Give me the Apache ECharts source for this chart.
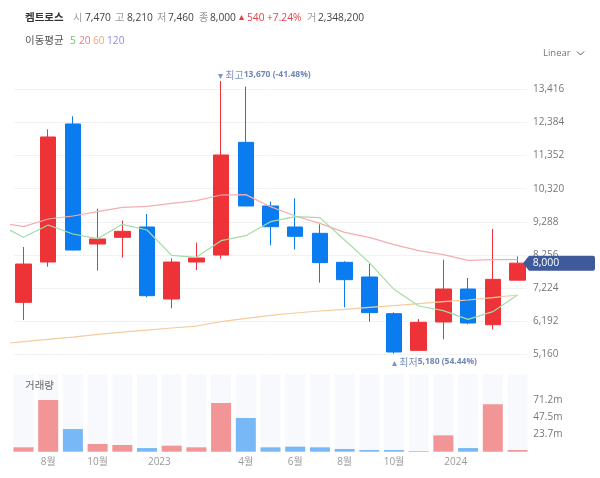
<!DOCTYPE html>
<html>
<head>
<meta charset="utf-8">
<title>켐트로스</title>
<script src="https://cdn.jsdelivr.net/npm/echarts@6/dist/echarts.min.js"></script>
<style>
  html, body { margin: 0; padding: 0; background: #fff; }
  #chart { width: 600px; height: 478px; }
</style>
</head>
<body>
<div id="chart"></div>
<script>
// 캔들 (월봉) - index 0 ~ 20
const opens = [6779, 8035, 12334, 8596, 8804, 9126, 6883, 8035, 8253, 11763, 9780, 9126, 8929, 8026, 7569, 6427, 5284, 6167, 7195, 6084, 7470];
const closes = [7973, 11929, 8409, 8752, 8991, 6987, 8035, 8160, 11368, 9780, 9136, 8835, 8015, 7486, 6458, 5233, 6157, 7195, 6136, 7496, 8000];
const lows = [6229, 7890, 8400, 7765, 8170, 6935, 6592, 7786, 8139, 9780, 8555, 8430, 7392, 6624, 6177, 5180, 5264, 5627, 6094, 5939, 7460];
const highs = [8503, 12168, 12573, 9697, 9323, 9531, 8150, 8638, 13670, 13497, 9915, 10019, 9209, 8057, 7984, 6468, 6260, 8109, 7537, 9064, 8210];

// 거래량 (단위: m)
const volumes = [6.0, 71.2, 31.2, 10.6, 9.2, 5.0, 8.3, 6.0, 67.0, 46.4, 6.0, 6.9, 6.0, 3.7, 2.3, 2.3, 0.9, 22.5, 5.0, 65.2, 2.3];

// 이동평균 - 첫 값은 차트 왼쪽 밖의 이전 봉 (index -1)
const ma5 = [9209, 8804, 9188, 8907, 8762, 9209, 9032, 8243, 8181, 8700, 8856, 9292, 9448, 9417, 8721, 8015, 7185, 6665, 6520, 6250, 6489, 7008];
const ma20 = [9271, 9136, 9375, 9468, 9603, 9738, 9769, 9863, 9946, 10122, 10133, 9759, 9468, 9240, 8960, 8804, 8576, 8389, 8264, 8088, 8109, 8109];
const ma60 = [5480, 5554, 5626, 5699, 5782, 5855, 5917, 5980, 6042, 6177, 6281, 6374, 6447, 6510, 6561, 6624, 6676, 6738, 6800, 6852, 6925, 7008];

// 축 라벨
const xLabelPositions = [1, 3, 5.5, 9, 11, 13, 15, 17.5];
const xLabels = ['8월', '10월', '2023', '4월', '6월', '8월', '10월', '2024'];
const volumeTicks = [23.7, 47.5, 71.2];

const RED = '#ee3338';
const BLUE = '#0a7cf0';
const NAVY = '#3f5a9a';
const FONT = '"Open Sans", "Noto Sans CJK KR", sans-serif';
const KR_FONT = '"Noto Sans CJK KR", sans-serif';

const candleData = opens.map((o, i) => [i, o, closes[i], lows[i], highs[i]]);
const volumeData = volumes.map((v, i) => ({
  value: [i, v],
  itemStyle: { color: closes[i] >= opens[i] ? '#f29597' : '#79b8f7' }
}));

function maLine(name, values, color) {
  return {
    name: name,
    type: 'line',
    xAxisIndex: 0,
    yAxisIndex: 0,
    data: values.map((v, i) => [i - 1, v]),
    symbol: 'none',
    silent: true,
    z: 5,
    lineStyle: { color: color, width: 1.2 }
  };
}

// 상단 텍스트 한 조각
function text(x, y, str, color, size, weight) {
  return {
    type: 'text',
    x: x,
    y: y,
    z: 100,
    silent: true,
    style: {
      text: str,
      fill: color,
      font: (weight || 'normal') + ' ' + (size || 10.2) + 'px ' + FONT,
      textVerticalAlign: 'middle'
    }
  };
}

// 최고/최저 표시용 라벨
function extremeLabel(xValue, yValue, offset, content) {
  return {
    coord: [xValue, yValue],
    symbol: 'circle',
    symbolSize: 1,
    itemStyle: { color: 'transparent' },
    label: {
      show: true,
      position: 'inside',
      align: 'left',
      verticalAlign: 'middle',
      offset: offset,
      formatter: content,
      rich: {
        a: { color: '#7f93bf', fontSize: 10, fontFamily: KR_FONT },
        b: { color: '#6f86b8', fontSize: 8.5, fontWeight: 'bold', fontFamily: FONT }
      }
    }
  };
}

const chart = echarts.init(document.getElementById('chart'));

chart.setOption({
  animation: false,
  backgroundColor: '#fff',
  grid: [
    // 0: 캔들, 1: 가격 눈금과 격자선, 2: 거래량
    { left: 11.15, width: 518.7, top: 76.9, height: 285.8 },
    { left: 14, width: 513, top: 89.3, height: 265 },
    { left: 11.15, width: 518.7, top: 374.3, height: 77.4 }
  ],
  xAxis: [
    { type: 'value', gridIndex: 0, min: -0.5, max: 20.5, show: false },
    { type: 'value', gridIndex: 1, min: 0, max: 1, show: false },
    {
      type: 'value',
      gridIndex: 2,
      min: -0.5,
      max: 20.5,
      splitLine: { show: false },
      axisLine: { show: false },
      axisTick: { show: false, customValues: xLabelPositions },
      axisLabel: {
        customValues: xLabelPositions,
        formatter: (v) => xLabels[xLabelPositions.indexOf(v)],
        color: '#999',
        fontSize: 10,
        fontFamily: FONT,
        margin: 5.5,
        showMinLabel: true,
        showMaxLabel: true
      }
    }
  ],
  yAxis: [
    { type: 'value', gridIndex: 0, min: 4900, max: 13800, show: false },
    {
      type: 'value',
      gridIndex: 1,
      position: 'right',
      min: 5160,
      max: 13416,
      interval: 1032,
      axisLine: { show: false },
      axisTick: { show: false },
      splitLine: { lineStyle: { color: '#f2f2f2', width: 1 } },
      axisLabel: {
        color: '#777',
        fontSize: 10,
        fontFamily: FONT,
        margin: 6,
        formatter: (v) => v.toLocaleString('en-US')
      }
    },
    {
      type: 'value',
      gridIndex: 2,
      position: 'right',
      min: 0,
      max: 106.6,
      axisLine: { show: false },
      splitLine: { show: false },
      axisTick: { show: false, customValues: volumeTicks },
      axisLabel: {
        customValues: volumeTicks,
        formatter: (v) => v + 'm',
        color: '#777',
        fontSize: 10,
        fontFamily: FONT,
        margin: 3.5
      }
    }
  ],
  series: [
    {
      // 격자선을 그리기 위한 빈 시리즈
      type: 'line',
      xAxisIndex: 1,
      yAxisIndex: 1,
      data: [],
      silent: true
    },
    {
      name: '캔들',
      type: 'candlestick',
      xAxisIndex: 0,
      yAxisIndex: 0,
      barWidth: 16,
      data: candleData,
      z: 3,
      itemStyle: {
        color: RED,
        color0: BLUE,
        borderColor: RED,
        borderColor0: BLUE,
        borderWidth: 1
      },
      markPoint: {
        silent: true,
        z: 10,
        data: [
          extremeLabel(8, 13670, [-3, -6], '{a|▾ 최고}{b|13,670 (-41.48%)}'),
          extremeLabel(15, 5180, [-2, 8], '{a|▴ 최저}{b|5,180 (54.44%)}'),
          {
            // 현재가 태그
            coord: [20, 8000],
            symbol: 'path://M6 0 L70 0 Q72 0 72 2 L72 13 Q72 15 70 15 L6 15 L0 7.5 Z',
            symbolSize: [72, 15],
            symbolOffset: [41.5, 0],
            symbolKeepAspect: false,
            itemStyle: { color: NAVY },
            label: {
              show: true,
              position: 'inside',
              offset: [-13, 0],
              formatter: '8,000',
              color: '#fff',
              fontSize: 10.5,
              fontFamily: FONT
            }
          }
        ]
      }
    },
    maLine('MA60', ma60, '#f4cc9f'),
    maLine('MA20', ma20, '#f4aeb0'),
    maLine('MA5', ma5, '#a4dca5'),
    {
      name: '거래량',
      type: 'bar',
      xAxisIndex: 2,
      yAxisIndex: 2,
      barWidth: 20,
      data: volumeData,
      showBackground: true,
      backgroundStyle: { color: '#f7f9fc' },
      silent: true
    }
  ],
  graphic: [
    text(25, 17.7, '켐트로스', '#333', 10.5, 'bold'),
    text(73, 17.7, '시', '#999'),
    text(85, 17.7, '7,470', '#444'),
    text(115, 17.7, '고', '#999'),
    text(127, 17.7, '8,210', '#444'),
    text(157, 17.7, '저', '#999'),
    text(168, 17.7, '7,460', '#444'),
    text(199, 17.7, '종', '#999'),
    text(210, 17.7, '8,000', '#444'),
    text(238.5, 17.2, '▴', RED, 10),
    text(247, 17.7, '540', '#e0434a'),
    text(267, 17.7, '+7.24%', '#e0434a'),
    text(307, 17.7, '거', '#999'),
    text(318, 17.7, '2,348,200', '#444'),
    text(25, 41, '이동평균', '#555', 10.5),
    text(70, 41, '5', '#6cc070'),
    text(79, 41, '20', '#ee7d85'),
    text(93, 41, '60', '#f0a878'),
    text(107, 41, '120', '#9a86e0'),
    text(543, 53, 'Linear', '#777', 9.5),
    {
      type: 'polyline',
      silent: true,
      shape: { points: [[577, 51.5], [580.5, 55], [584, 51.5]] },
      style: { stroke: '#555', lineWidth: 1, fill: null }
    },
    text(25, 386, '거래량', '#666', 10.5)
  ]
});
</script>
</body>
</html>
